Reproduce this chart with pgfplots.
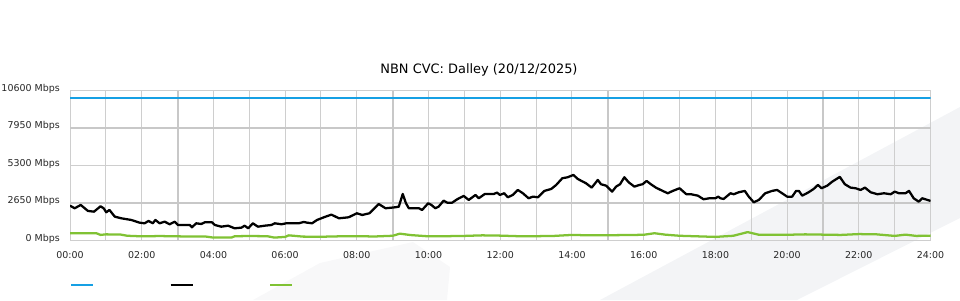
\documentclass[border=0pt]{standalone}
\usepackage{pgfplots}
\pgfplotsset{compat=1.18}
\usepackage{fontspec}
\setmainfont{DejaVu Sans}
\definecolor{cblue}{RGB}{22,160,228}
\definecolor{cgreen}{RGB}{128,194,52}
\definecolor{gridthin}{RGB}{206,206,206}
\definecolor{gridthick}{RGB}{200,200,200}
\definecolor{bgshape}{RGB}{243,244,246}
\definecolor{bgshapeb}{RGB}{248,248,249}
\pgfplotstableread{
h v
0 10050
24 10050
}\bluedata
\pgfplotstableread{
h v
0 2435
0.13 2250
0.3 2485
0.5 2060
0.67 2010
0.85 2390
0.94 2250
1.01 1965
1.1 2130
1.25 1655
1.43 1540
1.71 1420
1.94 1230
2.08 1185
2.19 1350
2.31 1185
2.38 1420
2.5 1185
2.64 1300
2.78 1115
2.92 1300
3.01 1065
3.34 1065
3.4 900
3.52 1185
3.66 1136
3.76 1255
3.96 1255
4.04 1065
4.22 945
4.41 1015
4.59 830
4.78 875
4.87 1015
4.97 830
5.1 1185
5.24 945
5.43 1015
5.62 1065
5.71 1185
5.9 1115
6.03 1185
6.38 1185
6.52 1280
6.61 1230
6.75 1185
6.89 1420
7.08 1610
7.29 1800
7.5 1540
7.77 1610
8.0 1895
8.15 1775
8.35 1895
8.61 2555
8.8 2250
9.07 2320
9.17 2365
9.28 3265
9.37 2605
9.45 2250
9.73 2250
9.82 2130
9.99 2605
10.08 2485
10.19 2250
10.28 2365
10.42 2790
10.52 2650
10.66 2650
10.8 2890
10.98 3125
11.12 2840
11.31 3195
11.4 2960
11.57 3265
11.82 3265
11.91 3360
11.99 3195
12.11 3315
12.21 3030
12.35 3195
12.49 3550
12.63 3315
12.79 2960
12.91 3075
13.05 3030
13.23 3480
13.42 3620
13.56 3905
13.73 4380
13.88 4450
14.04 4615
14.16 4330
14.39 4025
14.55 3715
14.72 4260
14.81 3955
14.95 3855
15.12 3430
15.23 3785
15.34 3955
15.46 4450
15.58 4095
15.74 3785
15.88 3905
15.97 3955
16.08 4190
16.2 3955
16.34 3715
16.53 3480
16.67 3315
16.81 3480
17.0 3670
17.19 3245
17.32 3245
17.51 3145
17.67 2890
17.83 2960
18.0 2960
18.08 3075
18.14 2960
18.23 2910
18.42 3315
18.51 3245
18.65 3385
18.82 3480
18.93 3075
19.07 2675
19.21 2840
19.39 3315
19.58 3480
19.72 3550
19.86 3315
20.0 3075
20.14 3075
20.25 3480
20.33 3480
20.42 3145
20.6 3385
20.74 3620
20.86 3905
20.96 3670
21.12 3855
21.26 4140
21.47 4475
21.61 3955
21.77 3715
21.91 3670
22.05 3550
22.17 3715
22.33 3385
22.52 3245
22.7 3315
22.89 3245
23.0 3430
23.12 3315
23.3 3315
23.4 3480
23.53 2960
23.67 2720
23.77 2960
24.0 2770
}\blackdata
\pgfplotstableread{
h v
0 480
0.5 480
0.75 470
0.85 360
1.0 400
1.4 390
1.6 300
2.0 260
2.5 280
3.0 260
3.5 240
3.8 240
4.0 170
4.5 170
4.6 270
5.0 280
5.5 270
5.7 170
6.0 220
6.1 330
6.5 240
7.0 230
7.5 260
8.0 270
8.5 250
9.0 300
9.2 450
9.5 350
10.0 260
10.5 270
11.0 290
11.5 330
12.0 310
12.5 270
13.0 270
13.5 290
14.0 360
14.5 330
15.0 340
15.5 350
16.0 370
16.3 480
16.6 380
17.0 300
17.5 260
18.0 220
18.5 300
18.9 560
19.2 380
19.5 370
20.0 370
20.5 400
21.0 380
21.5 360
22.0 420
22.5 400
23.0 290
23.3 380
23.6 290
24 310
}\greendata
\begin{document}
\begin{tikzpicture}
\useasboundingbox (0,0) rectangle (720pt,225pt);
\fill[bgshape] (450pt,0pt) -- (720pt,144.75pt) -- (720pt,61.5pt) -- (597.75pt,0pt) -- cycle;
\fill[bgshapeb] (189.75pt,0pt) -- (240pt,27.75pt) -- (309.75pt,43.5pt) -- (337.5pt,24.75pt) -- (335.25pt,0pt) -- cycle;
\node[font=\fontsize{9.7pt}{11pt}\selectfont, inner sep=0pt] at (359.25pt,172.5pt) {NBN CVC: Dalley (20/12/2025)};
\begin{axis}[
  at={(52.5pt,45pt)}, anchor=south west,
  scale only axis, width=645.4pt, height=112.1pt,
  xmin=0, xmax=24, ymin=0, ymax=10600,
  scaled y ticks=false,
  axis line style={gridthin, line width=0.75pt},
  major tick length=0pt, minor tick length=0pt,
  tick style={draw=none},
  xtick={0,2,...,24},
  xticklabels={00:00,02:00,04:00,06:00,08:00,10:00,12:00,14:00,16:00,18:00,20:00,22:00,24:00},
  minor xtick={1,5,7,11,13,17,19,23},
  ytick={0,5300,10600},
  yticklabels={0 Mbps,5300 Mbps,10600 Mbps},
  extra y ticks={2650,7950},
  extra y tick labels={2650 Mbps,7950 Mbps},
  extra x ticks={3,9,15,21},
  extra x tick labels={},
  extra x tick style={grid=major, major grid style={gridthick, line width=1.5pt}},
  extra y tick style={grid=major, major grid style={gridthick, line width=1.5pt}},
  grid=both,
  major grid style={gridthin, line width=0.75pt},
  minor grid style={gridthin, line width=0.75pt},
  ticklabel style={font=\fontsize{7.1pt}{8pt}\selectfont, text=black!85},
  yticklabel style={anchor=east, inner sep=0pt, xshift=-7.5pt, yshift=1.2pt},
  xticklabel style={anchor=north, inner sep=0pt, yshift=-8.3pt},
  legend columns=3,
  legend style={at={(0,-0.301)}, anchor=west, draw=none, fill=none,
    inner sep=0pt, outer sep=0pt, row sep=0pt,
    nodes={inner sep=0pt, outer sep=0pt},
    /tikz/every even column/.append style={column sep=55.5pt},
    /tikz/every odd column/.append style={column sep=0pt}},
  legend image code/.code={\draw[#1] (0pt,0pt) -- (16.5pt,0pt);},
]
\addplot[cblue, line width=1.6pt, line join=round] table[x=h,y=v] {\bluedata};
\addlegendentry{\mbox{}}
\addplot[black, line width=1.7pt, line join=round] table[x=h,y=v] {\blackdata};
\addlegendentry{\mbox{}}
\addplot[cgreen, line width=1.7pt, line join=round] table[x=h,y=v] {\greendata};
\addlegendentry{\mbox{}}
\end{axis}
\end{tikzpicture}
\end{document}
